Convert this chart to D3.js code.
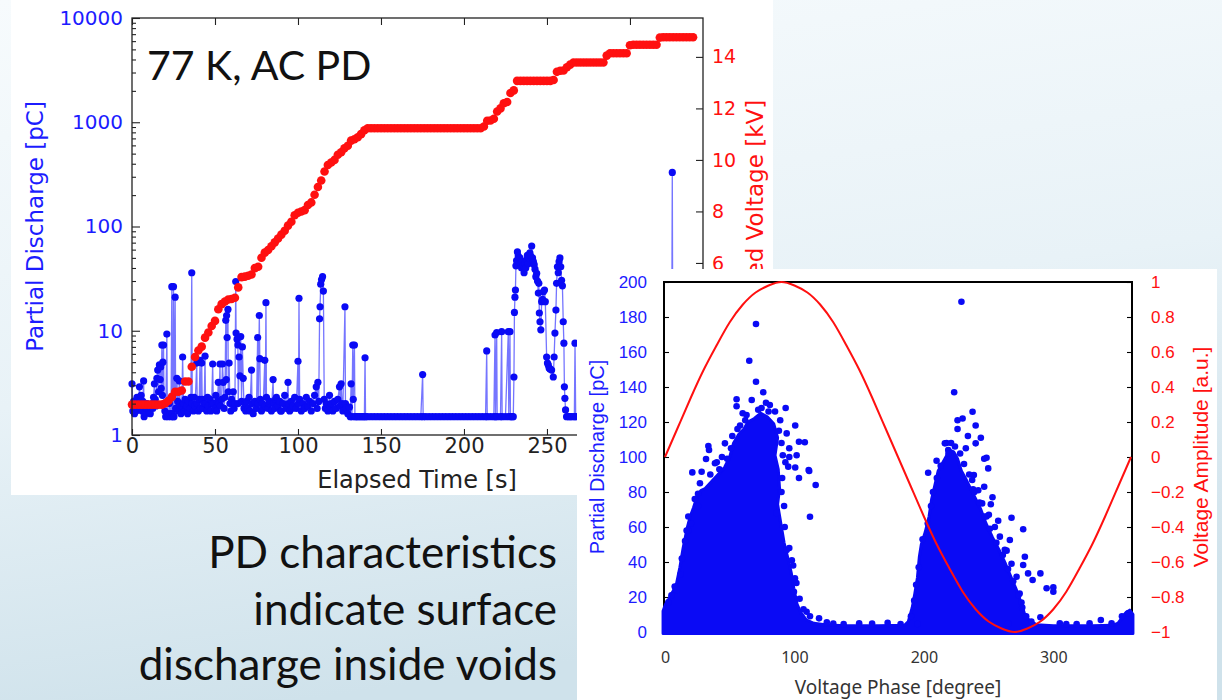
<!DOCTYPE html>
<html>
<head>
<meta charset="utf-8">
<script src="https://cdn.jsdelivr.net/npm/d3@7"></script>
<style>
  html, body { margin: 0; padding: 0; overflow: hidden; }
  svg { display: block; }
</style>
</head>
<body>
<svg id="slide" width="1222" height="700"></svg>
<script>
// ---------- Elapsed-time run at 77 K ----------
// Partial discharge events: [elapsed time s, charge pC]
const pdEvents = [
  [0,3.1],[0.5,1.7],[1,2.1],[1.5,1.6],[2,1.9],[2.5,1.7],[3,2.3],[3.5,1.8],[4,2.0],[4.5,2.9],[5,1.9],[5.5,2.4],
  [6,1.7],[6.5,2.1],[7,3.3],[7.3,1.5],[8,1.6],[8.5,1.8],[9,2.0],[10,1.7],[10.5,1.9],[11,1.6],[12,2.0],[12.5,1.8],
  [13,2.3],[13.5,3.1],[14,2.2],[14.5,1.9],[15,3.5],[15.5,4.2],[16,2.6],[16.5,4.7],[17,3.4],[17.3,4.5],[17.6,2.8],
  [18,7.3],[18.3,2.4],[18.6,5.0],[19,7.3],[19.3,2.0],[19.8,1.7],[20.3,1.5],[21,9.3],[21.3,1.6],[21.8,1.5],[22.5,2.0],
  [23,1.6],[23.5,1.5],[24,26.5],[24.3,1.6],[24.8,1.5],[25,26.5],[25.3,1.5],[26,21],[26.3,1.8],[27,3.5],[27.5,2.1],
  [28,1.7],[28.5,3.3],[29,2.0],[29.5,1.6],[30,1.9],[30.5,5.6],[31,2.0],[31.5,1.7],[32,2.2],[32.5,1.8],[33,1.9],
  [33.5,1.6],[34,2.1],[35,1.8],[35.5,2.3],[36,36],[36.3,2.0],[37,1.7],[37.5,2.3],[38,1.9],[39,4.9],[39.3,2.0],
  [40,1.7],[40.5,2.2],[41,5.2],[41.3,1.8],[42,4.9],[42.3,2.2],[43,1.8],[43.5,2.0],[44,5.7],[44.3,2.0],[45,1.7],
  [45.5,2.3],[46,1.9],[47,2.2],[47.5,1.7],[48,2.0],[48.6,4.8],[49,2.0],[50,1.8],[50.5,2.4],[51,1.7],[51.5,2.1],
  [52,3.2],[52.5,2.0],[53,4.8],[53.3,1.9],[54,2.2],[54.5,4.8],[55,3.2],[55.5,1.8],[56,2.3],[56.5,12.6],[56.8,3.4],
  [57,14],[57.3,8.6],[57.8,16],[58,2.6],[58.5,4.9],[59,2.0],[59.5,1.7],[60,2.2],[61,2.6],[61.5,1.8],[62,2.0],
  [62.5,29.6],[62.7,9.5],[63.3,8.3],[63.8,7.3],[64,2.0],[64.5,5.6],[65,3.7],[65.5,8.8],[66,2.1],[66.5,7.0],[67,3.5],
  [67.5,1.8],[68,2.0],[68.5,1.7],[69,2.1],[70,1.8],[70.5,2.3],[71,1.7],[72,4.2],[72.3,2.0],[73,1.6],[74,2.1],
  [75,1.8],[75.7,8.6],[76,2.0],[76.7,14],[77,5.4],[77.3,2.2],[78,1.7],[78.5,2.0],[79,1.8],[80,5.2],[80.3,1.9],
  [80.7,18.6],[81,2.3],[82,1.8],[82.5,2.0],[83,2.1],[84,1.7],[85,3.4],[85.3,2.0],[86,1.8],[86.5,2.2],[87,2.3],
  [88,1.9],[89,2.1],[89.5,1.7],[90,1.7],[91,2.0],[92,2.4],[93,1.8],[94,3.2],[94.3,2.0],[95,1.7],[96,2.1],[96.5,1.8],
  [97,1.9],[98,2.3],[99,1.8],[100,5.1],[100.3,2.0],[100.6,20.5],[101,2.2],[102,1.7],[103,2.0],[103.5,1.8],[104,1.8],
  [105,2.3],[106,1.9],[107,2.1],[108,1.7],[109,2.0],[110,2.4],[111,2.9],[111.5,1.8],[112,3.2],[112.5,2.1],[113,13],
  [113.3,17],[113.7,28],[114.2,31],[114.8,33],[115.3,24],[115.8,2.2],[116.5,1.8],[117,2.0],[118,1.7],[119,2.4],
  [119.5,1.9],[120,2.0],[121,1.7],[122,2.1],[123,1.8],[124,2.2],[125,2.9],[125.5,1.9],[126,3.1],[126.5,2.0],[127,1.7],
  [128.3,17],[128.6,2.0],[129,1.8],[130,1.6],[131,1.85],[131.5,1.5],[132,3.1],[132.5,1.5],[133,7.3],[133.3,2.2],
  [134,7.3],[134.3,1.5],[135,1.5],[136,1.5],[137,1.5],[138,1.5],[139,1.5],[140,1.5],[140.4,5.5],[140.7,1.5],
  [142,1.5],[144,1.5],[146,1.5],[148,1.5],[150,1.5],[152,1.5],[154,1.5],[156,1.5],[158,1.5],[160,1.5],[162,1.5],
  [164,1.5],[166,1.5],[168,1.5],[170,1.5],[172,1.5],[174,1.5],[175.1,3.8],[175.4,1.5],[177,1.5],[179,1.5],[181,1.5],
  [183,1.5],[185,1.5],[187,1.5],[189,1.5],[191,1.5],[193,1.5],[195,1.5],[197,1.5],[199,1.5],[201,1.5],[203,1.5],
  [205,1.5],[207,1.5],[209,1.5],[211,1.5],[213,1.5],[213.7,6.4],[214,1.5],[216,1.5],[218,1.5],[218.7,9.1],[219,1.5],
  [219.7,9.6],[220,1.5],[222,1.5],[222.7,9.8],[223,1.5],[225,1.5],[226.7,9.8],[227,1.5],[227.7,9.8],[228,1.5],
  [229,1.5],[229.7,1.5],[230.1,3.6],[230.4,15],[230.7,21],[231,24.6],[231.3,42],[231.7,47],[232.2,57],[232.7,52],
  [233.2,46],[233.7,50],[234.2,44],[234.7,40],[235.2,46],[235.7,42],[236.2,36],[236.7,44],[237.2,40],[237.7,48],
  [238.2,53],[238.7,44],[239.2,50],[239.7,56],[240.2,52],[240.8,65],[241.3,50],[241.8,46],[242.3,43],[242.8,39],
  [243.3,33],[243.8,35.6],[244.3,30],[244.8,23],[245.1,28.5],[245.4,14.8],[245.8,12.2],[246.3,10.2],[246.8,19],
  [247.3,20],[247.8,23.6],[248.5,24.6],[249,19],[249.8,5.6],[250.3,4.9],[250.8,4.7],[251.3,4.4],[251.8,4.3],
  [252.8,4.2],[253.8,3.6],[254.3,5.6],[254.8,9.5],[255.4,15.8],[255.8,28.5],[256.3,41],[256.8,36],[257.3,46],
  [257.8,50],[258.3,41],[258.8,30.5],[259.3,27],[259.8,12.2],[260.2,7.6],[260.5,2.9],[260.8,2.25],[261.2,1.74],
  [261.8,1.5],[263,1.5],[264,1.5],[265,1.5],[266.5,1.5],[266.9,7.6],[267.3,1.5],[269,1.5],[271,1.5],[273,1.5],
  [275,1.5],[277,1.5],[279,1.5],[281,1.5],[283,1.5],[285,1.5],[287,1.5],[289,1.5],[291,1.5],[293,1.5],[295,1.5],
  [297,1.5],[299,1.5],[301,1.5],[303,1.5],[305,1.5],[307,1.5],[309,1.5],[311,1.5],[313,1.5],[315,1.5],[317,1.5],
  [319,1.5],[321,1.5],[323,1.5],[325,1.5],[325.5,330],[325.9,1.5],[327,1.5],[329,1.5],[331,1.5],[333,1.5],[335,1.5],
  [337,1.5],[339,1.5],[341,1.5],[343,1.5]
];

// Applied voltage [kV], one reading every 2 s from t = 0
const voltStep = 2;
const voltKV = [
  0.5,0.5,0.5,0.5,0.5,0.5,0.5,0.5,0.5,0.5,
  0.55,0.65,0.8,1.0,1.0,1.05,1.4,1.4,1.97,2.35,
  2.6,2.75,3.1,3.3,3.55,3.75,4.2,4.4,4.5,4.58,
  4.6,4.65,5.05,5.45,5.47,5.5,5.55,5.8,5.85,6.2,
  6.4,6.5,6.65,6.8,6.95,7.1,7.25,7.45,7.6,7.85,
  7.95,8.0,8.05,8.25,8.35,8.65,8.95,9.2,9.55,9.8,
  9.9,10.0,10.2,10.3,10.45,10.55,10.75,10.8,10.88,11.0,
  11.15,11.23,11.23,11.23,11.23,11.23,11.23,11.23,11.23,11.23,
  11.23,11.23,11.23,11.23,11.23,11.23,11.23,11.23,11.23,11.23,
  11.23,11.23,11.23,11.23,11.23,11.23,11.23,11.23,11.23,11.23,
  11.23,11.23,11.23,11.23,11.23,11.23,11.3,11.52,11.53,11.6,
  11.88,12.0,12.2,12.25,12.6,12.7,13.07,13.07,13.07,13.07,
  13.07,13.07,13.07,13.07,13.07,13.07,13.07,13.1,13.42,13.46,
  13.47,13.6,13.7,13.78,13.78,13.78,13.78,13.78,13.78,13.78,
  13.78,13.78,13.78,14.05,14.14,14.14,14.14,14.14,14.14,14.14,
  14.45,14.47,14.47,14.47,14.47,14.47,14.47,14.47,14.47,14.75,
  14.76,14.76,14.76,14.76,14.76,14.76,14.76,14.76,14.76,14.76
];

const timeTicks = [0, 50, 100, 150, 200, 250, 300];
const timeLabels = [0, 50, 100, 150, 200, 250];
const chargeTicks = [1, 10, 100, 1000, 10000];
const voltTicks = [6, 8, 10, 12, 14];

// ---------- Phase-resolved pattern ----------
const phaseTicks = [0, 100, 200, 300];
const prpdTicks = [0, 20, 40, 60, 80, 100, 120, 140, 160, 180, 200];
const ampTicks = [-1, -0.8, -0.6, -0.4, -0.2, 0, 0.2, 0.4, 0.6, 0.8, 1];

// Applied voltage waveform, normalised amplitude every 10 degrees
const wavePhase = [0,10,20,30,40,50,60,70,80,90,100,110,120,130,140,150,160,170,180,
                   190,200,210,220,230,240,250,260,270,280,290,300,310,320,330,340,350,360];
const waveAmp = [0.00,0.17,0.34,0.50,0.64,0.77,0.87,0.94,0.98,1.00,0.98,0.94,0.87,0.77,0.64,0.50,0.34,0.17,0.00,
                 -0.17,-0.34,-0.50,-0.64,-0.77,-0.87,-0.94,-0.98,-1.00,-0.98,-0.94,-0.87,-0.77,-0.64,-0.50,-0.34,-0.17,0.00];

// Outline of the saturated region of the discharge cloud [phase deg, charge pC]
const cloudOutline = [
  [-1.5,-0.8],[-1.5,12],[0.5,16],[3,19],[6,23],[9,28],[11.5,37],[14,48],[17,59],[19.5,66],[22,71],[25,78],
  [28,81],[31,82],[36,86],[41,90],[46,94],[50,100],[53,108],[57,113],[61,116],[64,120],[69,122],[74,125],
  [79,123],[84,119],[87,111],[85,101],[87.5,93],[88.5,82],[87,73],[89.5,62],[92,51],[95,42],[97.5,34],
  [99.5,25],[102,16],[105,11],[109,7],[115,5],[125,4],[140,3.6],[165,3.6],[185,3.8],[188,6],[191,14],
  [193,22],[195,31],[196.5,43],[198,50],[201,57],[204,66],[206,76],[208.5,84],[211,92],[214,96],[217,100],
  [220,104],[223,103],[226,99],[229,92],[232,88],[236,82],[240,76],[244,70],[248,62],[253,54],[258,47],
  [263,39],[267,32],[271,25],[275,17],[277.5,11],[281,7],[287,4.2],[300,3.6],[330,3.6],[346,3.8],[350,5],
  [353,8],[356,11],[359,12.5],[361.5,10],[361.5,-0.8]
];

// Discharge events around the cloud edge and isolated ones [phase deg, charge pC]
const prpdOutliers = [
  [70.3,176],[65.1,155],[70.3,143],[75.9,137],[55.3,133],[55.3,129],[67,132.6],[74.6,128],[81,129.7],[93.2,128],
  [100.6,118],[94,113.5],[103.5,108.7],[108,108.4],[101.7,101],[46.3,107.8],[33.5,106.3],[34,104],[31.7,98.9],
  [38.6,96.4],[111,92.6],[111.4,92],[21.1,91.2],[28.3,91.6],[25.5,79],[25.5,72],[18,66],[18,58],[16.7,58],[9,24],
  [2.6,17],[90,80],[116.4,84],[112,65.9],[103.5,88],[100.6,94],[95.2,94.5],[93,97],[96,100],[86.2,68],[94,46.9],
  [98,41],[100.4,30.7],[99.6,23],[109.4,11.6],[119,7.8],[60,125],[62,121],[58,118],[78,131],[85,126],[89,121],
  [52,112],[44,100],[40,97],[90,108],[96,105],[5,21],[7.5,26],[12,33],[13,42],[15.5,52],[20,62],[23,76],[27,85],
  [35,90],[42,93],[48,99],[51,105],[56,116],[63,124],[72,127],[80,126],[88,115],[91,101],[90.5,88],[92,72],
  [92.5,60],[96,48],[99,38],[101.5,28],[104,19],[107,13],[112,9],
  [125,5.5],[138,4.5],[150,5],[160,4.8],[172,5.2],[182,4.6],[305,5],[318,4.6],[336.7,6.9],[345,5],[290,8.4],
  [357.8,10.7],[353,9],[130,4.8],[195,4.6],[265,4.8],[310,4.5],[328,5],
  [229,188.7],[223.4,137],[237.6,125.9],[229.9,122],[226,121],[226,116],[240,118],[244,111],[234,112],[217.5,108],
  [240,107.8],[216.2,107.8],[218.8,104],[232.4,105],[248.4,99.6],[246.6,99],[209.8,97.9],[249.7,93.5],[238.6,89.7],
  [203.3,91],[246.6,83],[238,81.5],[242,81],[237.3,86.9],[253,77],[251.7,73],[245,73.5],[250.2,67],[248.4,66],
  [257.4,63.6],[254.8,60],[267.7,65.3],[276.7,58.7],[258.7,54.5],[266.4,52.6],[262.5,47],[263.9,46.5],[278,43],
  [267.7,39],[276.7,38.3],[271.6,31.6],[280.5,33.5],[290,33.5],[284,29.7],[294.8,25],[300,25.5],[300,23],[274,22],
  [275.4,16.8],[190,9],[192.5,18],[194,27],[196,37],[199,53],[203,62],[205.5,72],[207,80],[210,88],[213,95],
  [219,102],[221,108],[224,106],[228,102],[231,96],[235,90],[239,80],[243,74],[247,66],[251,59],[256,51],[261,44],
  [265,36],[269,29],[273,21],[276,14],[279,9],[283,6]
];

// ---------- colours & fonts ----------
const BLUE = "#0a0af5";
const BLUE_TXT = "#1c1cff";
const RED = "#ff1010";
const MPL_FONT = "'DejaVu Sans', sans-serif";
const ARIAL = "'Liberation Sans', Arial, sans-serif";
const SLIDE_FONT = "Lato, 'Open Sans', sans-serif";

const svg = d3.select("#slide");
const defs = svg.append("defs");

// slide background
const bg = defs.append("linearGradient").attr("id", "slideBg")
  .attr("x1", 0).attr("y1", 0).attr("x2", 0.25).attr("y2", 1);
bg.append("stop").attr("offset", 0).attr("stop-color", "#f7fbfd");
bg.append("stop").attr("offset", 0.55).attr("stop-color", "#e8f2f7");
bg.append("stop").attr("offset", 1).attr("stop-color", "#cfe2eb");
svg.append("rect").attr("width", 1222).attr("height", 700).attr("fill", "url(#slideBg)");

function styleAxis(g, color, size, family) {
  g.select(".domain").remove();
  g.selectAll(".tick line").attr("stroke", "#222").attr("stroke-width", 1.1);
  g.selectAll(".tick text").attr("fill", color).attr("font-size", size).attr("font-family", family);
}

// ================= time-series panel =================
const left = svg.append("g");
left.append("rect").attr("x", 11).attr("y", 0).attr("width", 762).attr("height", 495).attr("fill", "#fff");

const xT = d3.scaleLinear().domain([0, 344]).range([132, 703]);
const yQ = d3.scaleLog().domain([1, 10000]).range([435, 18]);
const yV = d3.scaleLinear().domain([-0.68, 15.51]).range([435, 18]);

// discharge trace
left.append("path")
  .datum(pdEvents)
  .attr("fill", "none")
  .attr("stroke", "#3a3aff")
  .attr("stroke-opacity", 0.7)
  .attr("stroke-width", 1.3)
  .attr("d", d3.line().x(d => xT(d[0])).y(d => yQ(d[1])));
left.append("g").selectAll("circle")
  .data(pdEvents).join("circle")
  .attr("cx", d => xT(d[0])).attr("cy", d => yQ(d[1])).attr("r", 3.6)
  .attr("fill", BLUE);

// voltage ramp
left.append("g").selectAll("circle")
  .data(voltKV).join("circle")
  .attr("cx", (d, i) => xT(i * voltStep)).attr("cy", d => yV(d)).attr("r", 4.3)
  .attr("fill", RED);

// axes (ticks point inward)
const minorQ = [];
[1, 10, 100, 1000].forEach(dec => { for (let k = 2; k <= 9; k++) minorQ.push(dec * k); });

const gQ = left.append("g").attr("transform", "translate(132,0)")
  .call(d3.axisLeft(yQ).tickValues(chargeTicks).tickSize(-8).tickPadding(9).tickFormat(d3.format("d")));
styleAxis(gQ, BLUE_TXT, 20, MPL_FONT);
const gQm = left.append("g").attr("transform", "translate(132,0)")
  .call(d3.axisLeft(yQ).tickValues(minorQ).tickSize(-4).tickFormat(""));
styleAxis(gQm, BLUE_TXT, 20, MPL_FONT);

const gT = left.append("g").attr("transform", "translate(0,435)")
  .call(d3.axisBottom(xT).tickValues(timeLabels).tickSize(-6).tickPadding(3));
styleAxis(gT, "#222", 21, MPL_FONT);
const gTt = left.append("g").attr("transform", "translate(0,18)")
  .call(d3.axisTop(xT).tickValues(timeTicks).tickSize(-7).tickFormat(""));
styleAxis(gTt, "#222", 20, MPL_FONT);

const gV = left.append("g").attr("transform", "translate(703,0)")
  .call(d3.axisRight(yV).tickValues(voltTicks).tickSize(-7).tickPadding(9));
styleAxis(gV, RED, 19, MPL_FONT);

left.append("rect").attr("x", 132).attr("y", 18).attr("width", 571).attr("height", 417)
  .attr("fill", "none").attr("stroke", "#222").attr("stroke-width", 1.3);

left.append("text")
  .attr("transform", "translate(35,226.5) rotate(-90)")
  .attr("text-anchor", "middle").attr("dy", "0.35em")
  .attr("font-family", MPL_FONT).attr("font-size", 23).attr("fill", BLUE_TXT)
  .text("Partial Discharge [pC]");
left.append("text")
  .attr("transform", "translate(755,217) rotate(-90)")
  .attr("text-anchor", "middle").attr("dy", "0.35em")
  .attr("font-family", MPL_FONT).attr("font-size", 23).attr("fill", RED)
  .text("Applied Voltage [kV]");
left.append("text")
  .attr("x", 417).attr("y", 488).attr("text-anchor", "middle")
  .attr("font-family", MPL_FONT).attr("font-size", 24).attr("fill", "#222")
  .text("Elapsed Time [s]");
left.append("text")
  .attr("x", 147).attr("y", 80)
  .attr("font-family", SLIDE_FONT).attr("font-size", 41).attr("fill", "#111")
  .text("77 K, AC PD");

// ================= phase-resolved panel =================
const right = svg.append("g");
right.append("rect").attr("x", 577).attr("y", 269).attr("width", 640).attr("height", 431).attr("fill", "#fff");

const xP = d3.scaleLinear().domain([0, 360]).range([665, 1131]);
const yP = d3.scaleLinear().domain([0, 200]).range([632, 282]);
const yA = d3.scaleLinear().domain([-1, 1]).range([632, 282]);

right.append("rect").attr("x", 664).attr("y", 282).attr("width", 468).attr("height", 350)
  .attr("fill", "none").attr("stroke", "#000").attr("stroke-width", 2);

const gP = right.append("g").attr("transform", "translate(664,0)")
  .call(d3.axisLeft(yP).tickValues(prpdTicks).tickSize(-5).tickPadding(17));
styleAxis(gP, BLUE_TXT, 17, ARIAL);
gP.selectAll(".tick line").attr("stroke", "#000");
const gA = right.append("g").attr("transform", "translate(1132,0)")
  .call(d3.axisRight(yA).tickValues(ampTicks).tickSize(-5).tickPadding(19).tickFormat(d3.format("~g")));
styleAxis(gA, RED, 17, ARIAL);
gA.selectAll(".tick line").attr("stroke", "#000");
const gPh = right.append("g").attr("transform", "translate(0,632)")
  .call(d3.axisBottom(xP).tickValues(phaseTicks).tickSize(0).tickPadding(20));
styleAxis(gPh, "#333", 16, "'Noto Sans', sans-serif");

// discharge cloud
right.append("path")
  .datum(cloudOutline)
  .attr("fill", BLUE).attr("stroke", BLUE).attr("stroke-width", 3).attr("stroke-linejoin", "round")
  .attr("d", d3.line().x(d => xP(d[0])).y(d => yP(d[1])).curve(d3.curveLinearClosed));
right.append("g").selectAll("circle")
  .data(prpdOutliers).join("circle")
  .attr("cx", d => xP(d[0])).attr("cy", d => yP(d[1])).attr("r", 3.3)
  .attr("fill", BLUE);

// voltage waveform
right.append("path")
  .datum(wavePhase.map((p, i) => [p, waveAmp[i]]))
  .attr("fill", "none").attr("stroke", RED).attr("stroke-width", 2)
  .attr("d", d3.line().x(d => xP(d[0])).y(d => yA(d[1])).curve(d3.curveNatural));

right.append("text")
  .attr("transform", "translate(597,457) rotate(-90)")
  .attr("text-anchor", "middle").attr("dy", "0.35em")
  .attr("font-family", ARIAL).attr("font-size", 20).attr("fill", BLUE_TXT)
  .text("Partial Discharge [pC]");
right.append("text")
  .attr("transform", "translate(1201,457) rotate(-90)")
  .attr("text-anchor", "middle").attr("dy", "0.35em")
  .attr("font-family", ARIAL).attr("font-size", 21).attr("fill", RED)
  .text("Voltage Amplitude [a.u.]");
right.append("text")
  .attr("x", 898).attr("y", 694).attr("text-anchor", "middle")
  .attr("font-family", "'Noto Sans', sans-serif").attr("font-size", 19).attr("fill", "#333")
  .text("Voltage Phase [degree]");

// ================= slide caption =================
const caption = ["PD characteristics", "indicate surface", "discharge inside voids"];
const captionBaselines = [568, 625, 680];
svg.append("g").selectAll("text")
  .data(caption).join("text")
  .attr("x", 557).attr("y", (d, i) => captionBaselines[i])
  .attr("text-anchor", "end")
  .attr("font-family", SLIDE_FONT).attr("font-size", 44).attr("fill", "#111")
  .text(d => d);
</script>
</body>
</html>
